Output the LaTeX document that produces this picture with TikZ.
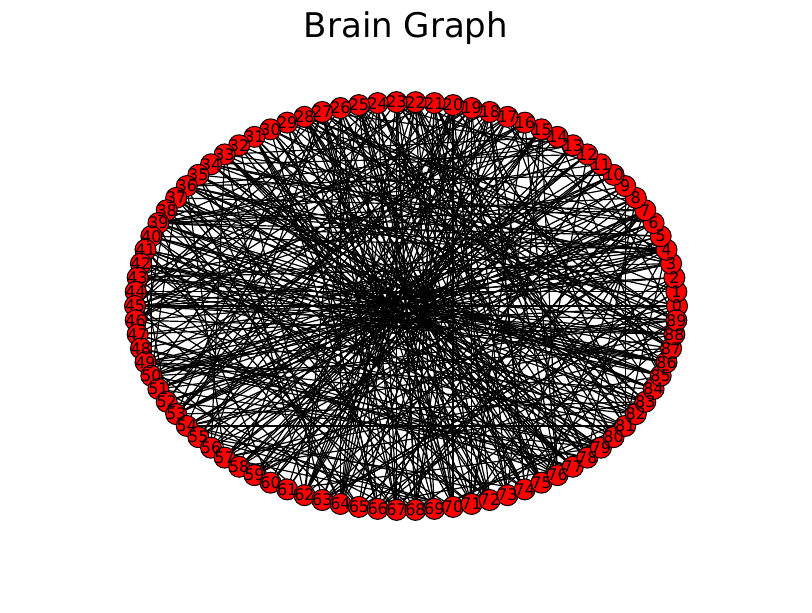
\documentclass[tikz,border=0pt]{standalone}
\usepackage{fontspec}
\setmainfont{DejaVu Sans}
\usetikzlibrary{backgrounds, calc}

\begin{document}
\begin{tikzpicture}[x=0.75pt, y=0.75pt,
        region/.style={circle, fill=red, draw=black, line width=0.75pt, minimum size=15.75pt, inner sep=0pt},
        regionlabel/.style={font=\fontsize{12}{14}\selectfont, inner sep=0pt},
        link/.style={draw=black, line width=0.9pt}]
    	% Page
    	\useasboundingbox (0,0) rectangle (812,612);

    	% Title
    	\node (Title) at (406,574.5) [anchor=base, font=\fontsize{25.5}{30}\selectfont]{Brain Graph};

    	% Regions on the ellipse
    	\foreach \i in {0,...,89}{
    		\node (Region\i) at ({406+271*cos(4*\i)},{306+204*sin(4*\i)}) [region]{};
    	}
    	\foreach \i in {0,...,89}{
    		\node (RegionLabel\i) at (Region\i) [regionlabel]{\i};
    	}

    	% Links
    	\begin{scope}[on background layer]
    		\pgfmathsetseed{4242}
    		\foreach \i in {0,...,89}{
    			\pgfmathrandominteger{\shift}{43}{47}
    			\pgfmathtruncatemacro{\j}{mod(\i+\shift,90)}
    			\draw[link] (Region\i.center) -- (Region\j.center);
    			\foreach \k in {1,2}{
    				\pgfmathrandominteger{\shift}{25}{65}
    				\pgfmathtruncatemacro{\j}{mod(\i+\shift,90)}
    				\draw[link] (Region\i.center) -- (Region\j.center);
    			}
    			\pgfmathrandominteger{\shift}{10}{80}
    			\pgfmathtruncatemacro{\j}{mod(\i+\shift,90)}
    			\draw[link] (Region\i.center) -- (Region\j.center);
    		}
    		% bundle from the top regions down
    		\foreach \i in {18,...,28}{
    			\foreach \k in {1,2,3}{
    				\pgfmathrandominteger{\j}{62}{76}
    				\draw[link] (Region\i.center) -- (Region\j.center);
    			}
    		}
    	\end{scope}
\end{tikzpicture}
\end{document}
